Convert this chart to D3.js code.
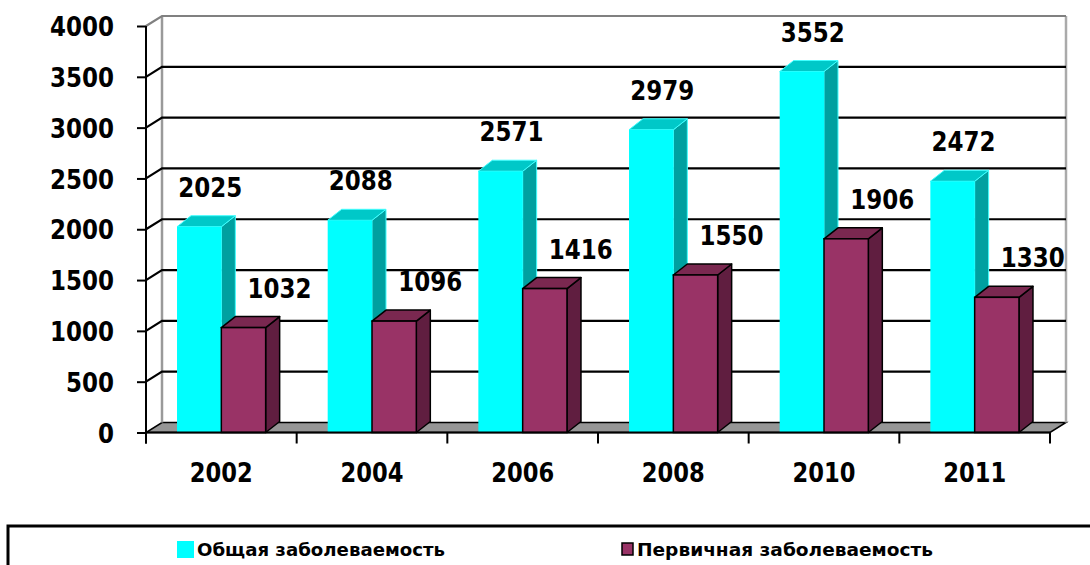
<!DOCTYPE html>
<html>
<head>
<meta charset="utf-8">
<script src="https://cdn.jsdelivr.net/npm/d3@7"></script>
<style>
  body { margin: 0; background: #fff; }
  svg { display: block; }
</style>
</head>
<body>
<div id="chart"></div>
<script>
// данные диаграммы
var years = ["2002", "2004", "2006", "2008", "2010", "2011"];
var totalValues = [2025, 2088, 2571, 2979, 3552, 2472];
var primaryValues = [1032, 1096, 1416, 1550, 1906, 1330];
var yTicks = [0, 500, 1000, 1500, 2000, 2500, 3000, 3500, 4000];
var seriesNames = ["Общая заболеваемость", "Первичная заболеваемость"];

var width = 1090, height = 565;

var svg = d3.select("#chart").append("svg")
	.attr("width", width)
	.attr("height", height);

var x0 = d3.scaleBand()
	.domain(years)
	.range([146, 1050])
	.paddingInner(0)
	.paddingOuter(0);

var x1 = d3.scaleBand()
	.domain(["total", "primary"])
	.range([0, x0.bandwidth()])
	.paddingInner(0)
	.paddingOuter(0.7);

var y = d3.scaleLinear()
	.domain([0, 4000])
	.range([432.5, 26]);

// глубина стенок и столбиков
var wdx = 16, wdy = -10;
var bdx = 14, bdy = -11;

var xLeft = x0.range()[0], xRight = x0.range()[1];

// пол
svg.append("polygon")
	.attr("points", [
		[xLeft, y(0)], [xRight, y(0)],
		[xRight + wdx, y(0) + wdy], [xLeft + wdx, y(0) + wdy]
	].join(" "))
	.attr("fill", "#969696")
	.attr("stroke", "#000")
	.attr("stroke-width", 1.5);

// стенки
svg.append("line")
	.attr("x1", xLeft + wdx).attr("x2", xLeft + wdx)
	.attr("y1", y(4000) + wdy).attr("y2", y(0) + wdy)
	.attr("stroke", "#9a9a9a").attr("stroke-width", 2.5);
svg.append("line")
	.attr("x1", xRight + wdx).attr("x2", xRight + wdx)
	.attr("y1", y(4000) + wdy).attr("y2", y(0) + wdy)
	.attr("stroke", "#aaa").attr("stroke-width", 2.5);

// линии сетки
var grid = svg.append("g").attr("fill", "none");
grid.selectAll("path")
	.data(yTicks.filter(function(d) { return d > 0; }))
	.enter().append("path")
	.attr("d", function(d) {
		return "M" + xLeft + "," + y(d) +
			"L" + (xLeft + wdx) + "," + (y(d) + wdy) +
			"L" + (xRight + wdx) + "," + (y(d) + wdy);
	})
	.attr("stroke", function(d) { return d === 4000 ? "#808080" : "#000"; })
	.attr("stroke-width", 2.2);

// столбики
var colors = {
	total: { front: "#00ffff", top: "#00c8c8", side: "#00a0a0", stroke: "#40ffff" },
	primary: { front: "#993366", top: "#7a2850", side: "#601e40", stroke: "#000" }
};

function drawBar(g, key, x, v) {
	var w = x1.bandwidth();
	var yt = y(v), yb = y(0);
	var c = colors[key];
	var sw = key === "primary" ? 1.5 : 1;
	g.append("polygon")
		.attr("points", [[x + w, yb], [x + w + bdx, yb + bdy], [x + w + bdx, yt + bdy], [x + w, yt]].join(" "))
		.attr("fill", c.side).attr("stroke", c.stroke).attr("stroke-width", sw)
		.attr("stroke-linejoin", "round");
	g.append("polygon")
		.attr("points", [[x, yt], [x + w, yt], [x + w + bdx, yt + bdy], [x + bdx, yt + bdy]].join(" "))
		.attr("fill", c.top).attr("stroke", c.stroke).attr("stroke-width", sw)
		.attr("stroke-linejoin", "round");
	g.append("rect")
		.attr("x", x).attr("y", yt)
		.attr("width", w).attr("height", yb - yt)
		.attr("fill", c.front).attr("stroke", key === "primary" ? "#000" : "none")
		.attr("stroke-width", sw);
}

var bars = svg.append("g");
years.forEach(function(yr, i) {
	var g = bars.append("g");
	drawBar(g, "total", x0(yr) + x1("total"), totalValues[i]);
	drawBar(g, "primary", x0(yr) + x1("primary"), primaryValues[i]);
});

// оси
var yAxis = svg.append("g")
	.attr("transform", "translate(" + xLeft + ",0)")
	.call(d3.axisLeft(y).tickValues(yTicks).tickFormat(d3.format("d"))
		.tickSize(9).tickPadding(23).tickSizeOuter(0));
yAxis.select(".domain").attr("stroke", "#000").attr("stroke-width", 2)
	.attr("d", "M0," + y(4000) + "V" + (y(0) + 11));
yAxis.selectAll(".tick line").attr("stroke", "#000").attr("stroke-width", 2);
yAxis.selectAll(".tick text")
	.attr("font-family", "DejaVu Sans, sans-serif")
	.attr("font-weight", "bold")
	.attr("font-size", 27)
	.attr("fill", "#000")
	.attr("dy", "0.36em")
	.attr("textLength", function(d) { return String(d).length * 16; })
	.attr("lengthAdjust", "spacingAndGlyphs");

svg.append("line")
	.attr("x1", xLeft).attr("x2", xRight)
	.attr("y1", y(0)).attr("y2", y(0))
	.attr("stroke", "#000").attr("stroke-width", 2);

var bounds = years.map(function(d) { return x0(d); }).concat([xRight]);
svg.append("g").selectAll("line")
	.data(bounds)
	.enter().append("line")
	.attr("x1", function(d) { return d; }).attr("x2", function(d) { return d; })
	.attr("y1", y(0)).attr("y2", y(0) + 11)
	.attr("stroke", "#000").attr("stroke-width", 2);

var xAxis = svg.append("g")
	.attr("transform", "translate(0," + y(0) + ")")
	.call(d3.axisBottom(x0).tickSize(0).tickPadding(30));
xAxis.select(".domain").remove();
xAxis.selectAll(".tick text")
	.attr("font-family", "DejaVu Sans, sans-serif")
	.attr("font-weight", "bold")
	.attr("font-size", 27)
	.attr("fill", "#000")
	.attr("textLength", 63)
	.attr("lengthAdjust", "spacingAndGlyphs");

// подписи значений
var labels = svg.append("g")
	.attr("font-family", "DejaVu Sans, sans-serif")
	.attr("font-weight", "bold")
	.attr("font-size", 27)
	.attr("text-anchor", "middle")
	.attr("fill", "#000");

function addLabels(values, key, dx) {
	labels.selectAll("text." + key)
		.data(values)
		.enter().append("text")
		.attr("class", key)
		.attr("x", function(d, i) { return x0(years[i]) + x1(key) + x1.bandwidth() / 2 + dx; })
		.attr("y", function(d) { return y(d) - 40 + 10; })
		.attr("textLength", 64)
		.attr("lengthAdjust", "spacingAndGlyphs")
		.text(function(d) { return d; });
}
addLabels(totalValues, "total", 11);
addLabels(primaryValues, "primary", 36);

// легенда
svg.append("rect")
	.attr("x", 8).attr("y", 526)
	.attr("width", 1100).attr("height", 80)
	.attr("fill", "none")
	.attr("stroke", "#000")
	.attr("stroke-width", 3);

var legend = svg.append("g")
	.attr("font-family", "DejaVu Sans, sans-serif")
	.attr("font-size", 17)
	.attr("fill", "#000");

var legendItems = [
	{ name: seriesNames[0], x: 177, key: "total", len: 248 },
	{ name: seriesNames[1], x: 621, key: "primary", len: 296 }
];
legendItems.forEach(function(d) {
	if (d.key === "total") {
		legend.append("rect")
			.attr("x", d.x).attr("y", 541).attr("width", 17).attr("height", 17)
			.attr("fill", colors.total.front);
	} else {
		legend.append("rect")
			.attr("x", d.x + 1).attr("y", 543).attr("width", 11).attr("height", 12)
			.attr("fill", colors.primary.front)
			.attr("stroke", "#000").attr("stroke-width", 1.5);
	}
	legend.append("text")
		.attr("x", d.key === "total" ? d.x + 20 : d.x + 16)
		.attr("y", 556)
		.attr("font-weight", "bold")
		.attr("textLength", d.len)
		.attr("lengthAdjust", "spacingAndGlyphs")
		.text(d.name);
});
</script>
</body>
</html>
